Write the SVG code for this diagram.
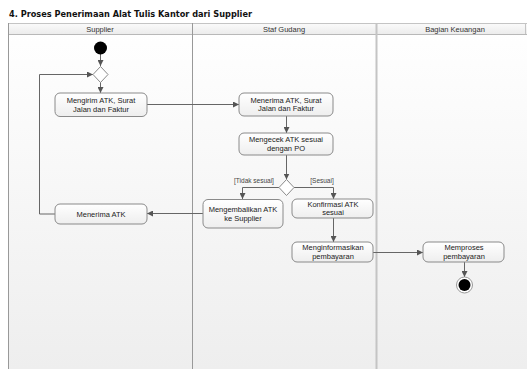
<svg xmlns="http://www.w3.org/2000/svg" width="527" height="369" viewBox="0 0 527 369">
  <defs>
    <linearGradient id="laneBg" x1="0" y1="0" x2="0" y2="1">
      <stop offset="0" stop-color="#ffffff"/>
      <stop offset="1" stop-color="#eeeeee"/>
    </linearGradient>
    <linearGradient id="headBg" x1="0" y1="0" x2="0" y2="1">
      <stop offset="0" stop-color="#fbfbfb"/>
      <stop offset="1" stop-color="#ececec"/>
    </linearGradient>
    <linearGradient id="nodeBg" x1="0" y1="0" x2="0" y2="1">
      <stop offset="0" stop-color="#ffffff"/>
      <stop offset="1" stop-color="#eeeeee"/>
    </linearGradient>
    <marker id="arrow" viewBox="0 0 8 8" refX="8" refY="4" markerWidth="6" markerHeight="6" orient="auto" markerUnits="userSpaceOnUse">
      <path d="M0,0 L8,4 L0,8 z" fill="#555"/>
    </marker>
    <style>
      .title { font-family: "DejaVu Sans", "Liberation Sans", sans-serif; font-weight: bold; font-size: 9.5px; fill: #111; }
      .head { font-family: "Liberation Sans", Arial, sans-serif; font-size: 7.5px; fill: #333; text-anchor: middle; }
      .lbl { font-family: "Liberation Sans", Arial, sans-serif; font-size: 7.5px; fill: #222; text-anchor: middle; }
      .guard { font-family: "Liberation Sans", Arial, sans-serif; font-size: 6.5px; fill: #444; text-anchor: middle; }
      .box { fill: url(#nodeBg); stroke: #8a8a8a; stroke-width: 1; }
      .dia { fill: #ffffff; stroke: #8a8a8a; stroke-width: 1; }
      .edge { fill: none; stroke: #666; stroke-width: 1; marker-end: url(#arrow); }
      .edgeplain { fill: none; stroke: #666; stroke-width: 1; }
    </style>
  </defs>

  <rect width="527" height="369" fill="#ffffff"/>

  <text class="title" x="9" y="17" textLength="243" lengthAdjust="spacingAndGlyphs">4. Proses Penerimaan Alat Tulis Kantor dari Supplier</text>

  <!-- swimlanes -->
  <g id="lanes">
    <rect x="8" y="23" width="519" height="346" fill="url(#laneBg)"/>
    <rect x="8" y="23" width="519" height="11" fill="url(#headBg)"/>
    <line x1="8" y1="23.5" x2="527" y2="23.5" stroke="#c4c4c4"/>
    <line x1="8" y1="34.5" x2="527" y2="34.5" stroke="#b8b8b8"/>
    <line x1="8.5" y1="23" x2="8.5" y2="369" stroke="#999"/>
    <line x1="192.5" y1="23" x2="192.5" y2="369" stroke="#999"/>
    <line x1="376.5" y1="23" x2="376.5" y2="369" stroke="#c4c4c4" stroke-width="2"/>
    <line x1="525.5" y1="23" x2="525.5" y2="34" stroke="#c4c4c4"/>
    <text class="head" x="100" y="31.5">Supplier</text>
    <text class="head" x="284" y="31.5">Staf Gudang</text>
    <text class="head" x="455" y="31.5">Bagian Keuangan</text>
  </g>

  <!-- connectors -->
  <g id="connectors">
    <line class="edge" x1="100.5" y1="54" x2="100.5" y2="66"/>
    <line class="edge" x1="100.5" y1="82" x2="100.5" y2="93"/>
    <polyline class="edge" points="55,214 39.5,214 39.5,74.5 93,74.5"/>
    <line class="edge" x1="147" y1="104.5" x2="239" y2="104.5"/>
    <line class="edge" x1="286.5" y1="116" x2="286.5" y2="133"/>
    <line class="edge" x1="286.5" y1="155" x2="286.5" y2="179.5"/>
    <polyline class="edge" points="279,187.5 242.5,187.5 242.5,199"/>
    <polyline class="edge" points="294,187.5 333.5,187.5 333.5,199"/>
    <line class="edge" x1="203" y1="213.5" x2="147" y2="213.5"/>
    <line class="edge" x1="333.5" y1="218" x2="333.5" y2="242"/>
    <line class="edge" x1="373" y1="252.5" x2="423" y2="252.5"/>
    <line class="edge" x1="464.5" y1="262" x2="464.5" y2="277"/>
    <text class="guard" x="254" y="183">[Tidak sesuai]</text>
    <text class="guard" x="322" y="183">[Sesuai]</text>
  </g>

  <!-- nodes -->
  <g id="start">
    <circle cx="100.5" cy="48" r="6.5" fill="#000"/>
  </g>
  <g id="merge">
    <polygon class="dia" points="100.5,66.5 108,74.5 100.5,82.5 93,74.5"/>
  </g>
  <g id="mengirim">
    <rect class="box" x="55" y="93" width="92" height="23.5" rx="5"/>
    <text class="lbl" x="101" y="103">Mengirim ATK, Surat</text>
    <text class="lbl" x="101" y="111.5">Jalan dan Faktur</text>
  </g>
  <g id="menerima-atk">
    <rect class="box" x="55" y="204" width="92" height="20" rx="5"/>
    <text class="lbl" x="101" y="216.5">Menerima ATK</text>
  </g>
  <g id="menerima-surat">
    <rect class="box" x="239" y="93" width="94" height="23" rx="5"/>
    <text class="lbl" x="286" y="102.5">Menerima ATK, Surat</text>
    <text class="lbl" x="286" y="111">Jalan dan Faktur</text>
  </g>
  <g id="mengecek">
    <rect class="box" x="239" y="133" width="94" height="22" rx="5"/>
    <text class="lbl" x="286" y="142">Mengecek ATK sesuai</text>
    <text class="lbl" x="286" y="150.5">dengan PO</text>
  </g>
  <g id="decision">
    <polygon class="dia" points="286.5,179.5 294,187.5 286.5,195.5 279,187.5"/>
  </g>
  <g id="mengembalikan">
    <rect class="box" x="203" y="199.5" width="80" height="28.5" rx="5"/>
    <text class="lbl" x="243" y="212">Mengembalikan ATK</text>
    <text class="lbl" x="243" y="220.5">ke Supplier</text>
  </g>
  <g id="konfirmasi">
    <rect class="box" x="292" y="199" width="81" height="19" rx="5"/>
    <text class="lbl" x="333" y="206.5">Konfirmasi ATK</text>
    <text class="lbl" x="333" y="215">sesuai</text>
  </g>
  <g id="menginformasikan">
    <rect class="box" x="292" y="242" width="81" height="20" rx="5"/>
    <text class="lbl" x="333" y="250">Menginformasikan</text>
    <text class="lbl" x="333" y="258.5">pembayaran</text>
  </g>
  <g id="memproses">
    <rect class="box" x="423" y="242" width="81" height="20" rx="5"/>
    <text class="lbl" x="464" y="250">Memproses</text>
    <text class="lbl" x="464" y="258.5">pembayaran</text>
  </g>
  <g id="end">
    <circle cx="464.5" cy="285" r="8" fill="#fff" stroke="#999" stroke-width="1"/>
    <circle cx="464.5" cy="285" r="6" fill="#000"/>
  </g>
</svg>
